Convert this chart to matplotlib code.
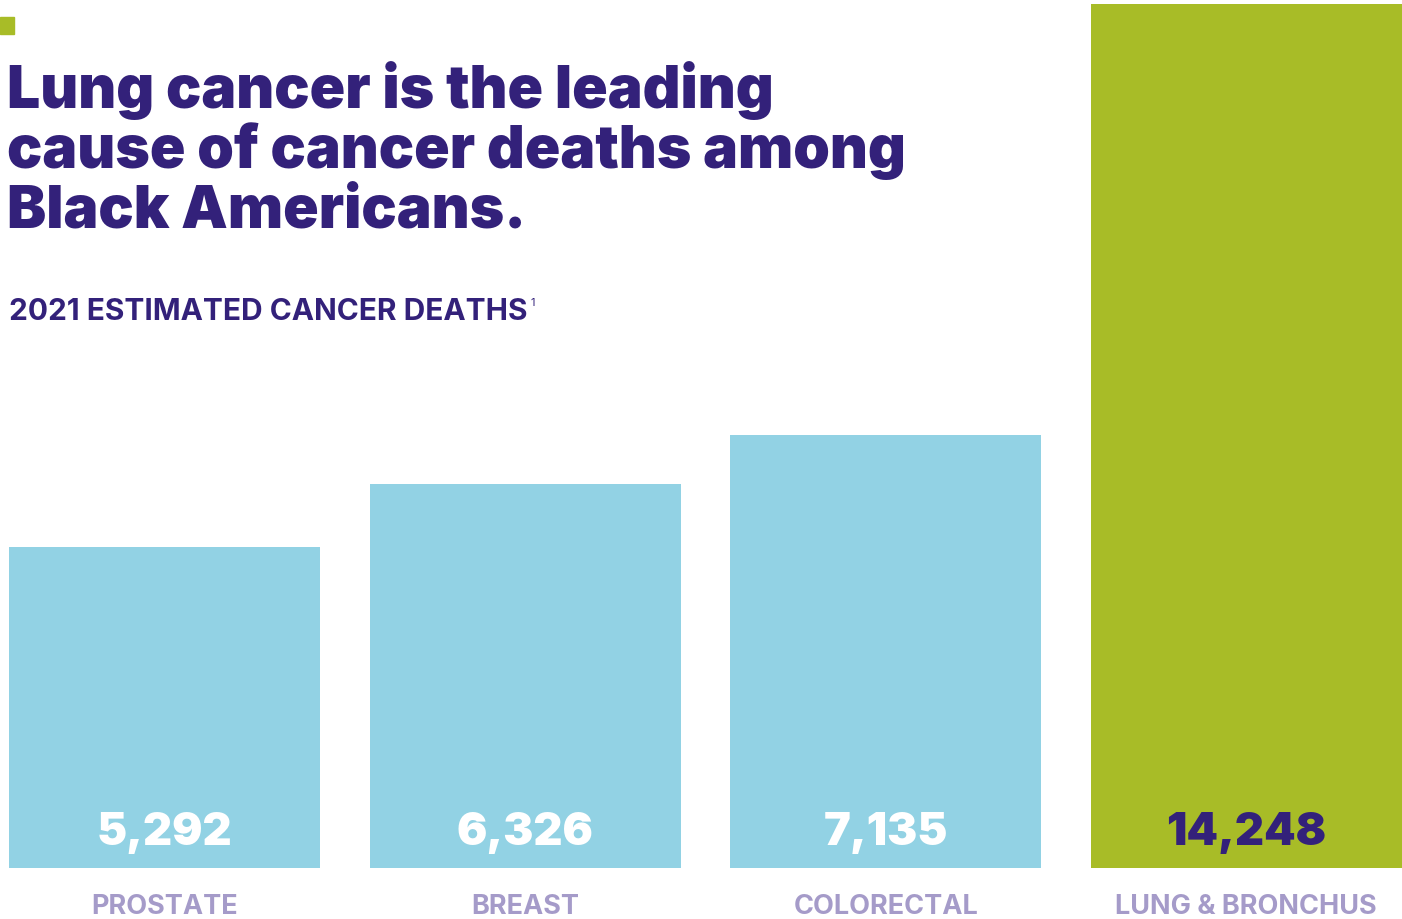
import matplotlib.pyplot as plt
from matplotlib.patches import Rectangle

categories = ["PROSTATE", "BREAST", "COLORECTAL", "LUNG & BRONCHUS"]
deaths = [5292, 6326, 7135, 14248]
value_labels = ["5,292", "6,326", "7,135", "14,248"]
title_lines = ["Lung cancer is the leading", "cause of cancer deaths among", "Black Americans."]

NAVY = "#33217a"
BLUE = "#92d2e4"
GREEN = "#a8bc27"
LAVENDER = "#a59bc9"

W, H = 1402, 920
plt.rcParams['font.family'] = ['Inter', 'DejaVu Sans']
fig = plt.figure(figsize=(W / 100, H / 100), dpi=100)


def fx(px):
    return px / W


def fy(py):
    return 1 - py / H


# bars: bottom at y=869px, tallest reaches y=5px
ax = fig.add_axes([fx(9), fy(869), 1 - fx(9), (869 - 5) / H])
colors = [BLUE, BLUE, BLUE, GREEN]
x = range(len(categories))
ax.bar(x, deaths, width=0.864, color=colors)
ax.set_xlim(-0.432, 3.432)
ax.set_ylim(0, max(deaths))
ax.axis("off")

for i, lab in enumerate(value_labels):
    c = NAVY if i == 3 else "white"
    xc = fx(9) + (i + 0.432) / 3.864 * (1 - fx(9))
    fig.text(xc, fy(845), lab, ha="center", va="baseline", fontsize=32.5,
             fontweight="black", color=c)
    fig.text(xc, fy(914), categories[i], ha="center", va="baseline", fontsize=19.5,
             fontweight="bold", color=LAVENDER)

# small green square
fig.patches.append(Rectangle((0, fy(35)), fx(14), 17 / H, transform=fig.transFigure,
                             color=GREEN))

for line, base in zip(title_lines, [108, 168, 228]):
    fig.text(fx(7), fy(base), line, ha="left", va="baseline", fontsize=42.3,
             fontweight="black", color=NAVY)

sub = fig.text(fx(9), fy(320), "2021 ESTIMATED CANCER DEATHS", ha="left", va="baseline",
               fontsize=21.5, fontweight="bold", color=NAVY)
fig.canvas.draw()
bb = sub.get_window_extent()
fig.text(bb.x1 / W + fx(3), fy(306), "1", ha="left", va="baseline", fontsize=8, color=NAVY)

fig.savefig("out.png", dpi=100)
